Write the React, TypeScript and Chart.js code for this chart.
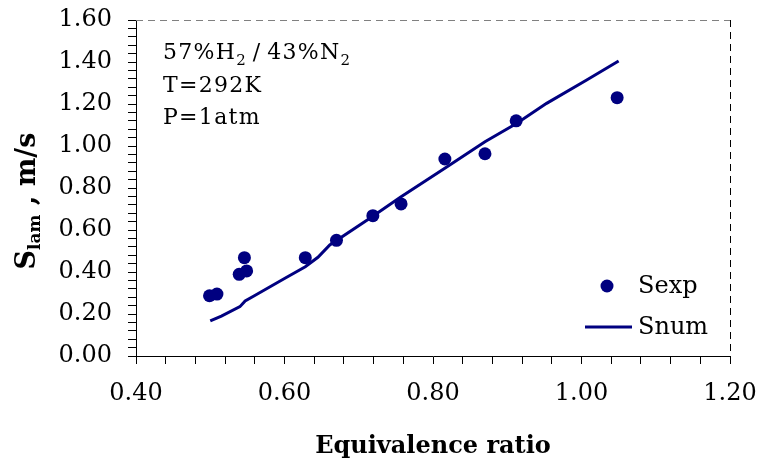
import { useEffect, useRef } from "react";
import { Chart, registerables } from "chart.js";
Chart.register(...registerables);

const FONT = '"DejaVu Serif", serif';
const NAVY = "#000080";

// Experimental points (equivalence ratio, S_lam in m/s)
const expPhi = [0.499, 0.509, 0.539, 0.546, 0.549, 0.628, 0.670, 0.719, 0.757, 0.816, 0.870, 0.912, 1.048];
const expS = [0.287, 0.295, 0.389, 0.468, 0.405, 0.468, 0.551, 0.668, 0.724, 0.938, 0.963, 1.120, 1.230];

// Numerical curve
const numPhi = [0.500, 0.515, 0.540, 0.547, 0.560, 0.600, 0.628, 0.645, 0.661, 0.715, 0.756, 0.819, 0.870, 0.913, 0.953, 1.007, 1.050];
const numS = [0.167, 0.190, 0.235, 0.262, 0.288, 0.369, 0.425, 0.470, 0.529, 0.656, 0.756, 0.901, 1.020, 1.108, 1.203, 1.314, 1.405];

// Axis ticks
const xMin = 0.4, xMax = 1.2, xMajorStep = 0.2, xMinorStep = 0.04;
const yMin = 0.0, yMax = 1.6, yMajorStep = 0.2, yMinorStep = 0.04;

const seriesLabels = ["Sexp", "Snum"];
const xTitle = "Equivalence ratio";
const annotationLines = [
  [["57%H", false], ["2", true], ["\u2009/\u200943%N", false], ["2", true]],
  [["T=292K", false]],
  [["P=1atm", false]],
] as [string, boolean][][];

function tickList(min: number, max: number, step: number) {
  const out: { value: number }[] = [];
  const n = Math.round((max - min) / step);
  for (let i = 0; i <= n; i++) out.push({ value: +(min + i * step).toFixed(4) });
  return out;
}
const isMajor = (v: number, base: number, step: number) => {
  const r = (v - base) / step;
  return Math.abs(r - Math.round(r)) < 1e-6;
};

const overlay = {
  id: "overlay",
  afterDraw(chart: any) {
    const { ctx, chartArea: a } = chart;
    ctx.save();
    // dashed top & right frame
    ctx.lineWidth = 1;
    ctx.setLineDash([7, 5]);
    ctx.strokeStyle = "#808080";
    ctx.beginPath();
    ctx.moveTo(a.left, a.top + 0.5);
    ctx.lineTo(a.right, a.top + 0.5);
    ctx.stroke();
    ctx.strokeStyle = "#000";
    ctx.beginPath();
    ctx.moveTo(a.right + 0.5, a.top);
    ctx.lineTo(a.right + 0.5, a.bottom);
    ctx.stroke();
    ctx.setLineDash([]);

    // annotation
    ctx.fillStyle = "#000";
    ctx.textBaseline = "alphabetic";
    ctx.textAlign = "left";
    (ctx as any).letterSpacing = "1.3px";
    const ax = a.left + 27;
    let ay = a.top + 39;
    for (const line of annotationLines) {
      let x = ax;
      for (const [txt, sub] of line) {
        ctx.font = sub ? `15px ${FONT}` : `22px ${FONT}`;
        ctx.fillText(txt, x, sub ? ay + 6 : ay);
        x += ctx.measureText(txt).width;
      }
      ay += 32.5;
    }
    (ctx as any).letterSpacing = "0px";

    // legend
    const ds = chart.data.datasets;
    const lx = a.right - 123;
    ctx.fillStyle = NAVY;
    ctx.beginPath();
    ctx.arc(lx, 286, 6.5, 0, Math.PI * 2);
    ctx.fill();
    ctx.strokeStyle = NAVY;
    ctx.lineWidth = 3;
    ctx.beginPath();
    ctx.moveTo(a.right - 145, 327);
    ctx.lineTo(a.right - 98, 327);
    ctx.stroke();
    ctx.fillStyle = "#000";
    ctx.font = `24px ${FONT}`;
    ctx.fillText(ds[0].label, a.right - 92, 293);
    ctx.fillText(ds[1].label, a.right - 92, 334);

    // x title
    ctx.font = `bold 24px ${FONT}`;
    ctx.textAlign = "center";
    ctx.fillText(xTitle, (a.left + a.right) / 2, 453);

    // y title (rotated, with subscript)
    const parts: [string, string, number][] = [
      ["S", `bold 27px ${FONT}`, 0],
      ["lam", `bold 17px ${FONT}`, 5],
      [" , m/s", `bold 27px ${FONT}`, 0],
    ];
    let total = 0;
    for (const [t, f] of parts) {
      ctx.font = f;
      total += ctx.measureText(t).width;
    }
    ctx.translate(35, 201);
    ctx.rotate(-Math.PI / 2);
    ctx.textAlign = "left";
    let px = -total / 2;
    for (const [t, f, dy] of parts) {
      ctx.font = f;
      ctx.fillText(t, px, dy);
      px += ctx.measureText(t).width;
    }
    ctx.restore();
  },
};

export default function App() {
  const ref = useRef<HTMLCanvasElement>(null);
  useEffect(() => {
    if (!ref.current) return;
    const chart = new Chart(ref.current, {
      type: "scatter",
      data: {
        datasets: [
          {
            label: seriesLabels[0],
            data: expPhi.map((x, i) => ({ x, y: expS[i] })),
            backgroundColor: NAVY,
            borderColor: NAVY,
            pointRadius: 6.5,
            pointBorderWidth: 0,
            showLine: false,
          },
          {
            label: seriesLabels[1],
            data: numPhi.map((x, i) => ({ x, y: numS[i] })),
            borderColor: NAVY,
            backgroundColor: NAVY,
            borderWidth: 3,
            pointRadius: 0,
            showLine: true,
            tension: 0,
            fill: false,
          },
        ],
      },
      options: {
        animation: false,
        responsive: false,
        layout: { padding: { left: 0, top: 20, right: 27, bottom: 0 } },
        plugins: { legend: { display: false }, tooltip: { enabled: false } },
        scales: {
          x: {
            type: "linear",
            min: xMin,
            max: xMax,
            afterBuildTicks: (s: any) => {
              s.ticks = tickList(xMin, xMax, xMinorStep);
            },
            afterFit: (s: any) => {
              s.height = 106;
              s.paddingLeft = 0;
              s.paddingRight = 0;
            },
            grid: { drawOnChartArea: false, tickLength: 8, color: "#000", tickColor: "#000" },
            border: { display: true, color: "#000", width: 1 },
            ticks: {
              autoSkip: false,
              maxRotation: 0,
              padding: 15,
              color: "#000",
              font: { family: FONT, size: 24 },
              callback: (v: any) => (isMajor(v, xMin, xMajorStep) ? Number(v).toFixed(2) : ""),
            },
          },
          y: {
            type: "linear",
            min: yMin,
            max: yMax,
            afterBuildTicks: (s: any) => {
              s.ticks = tickList(yMin, yMax, yMinorStep);
            },
            afterFit: (s: any) => {
              s.width = 136;
              s.paddingTop = 0;
              s.paddingBottom = 0;
            },
            grid: { drawOnChartArea: false, tickLength: 8, color: "#000", tickColor: "#000" },
            border: { display: true, color: "#000", width: 1 },
            ticks: {
              autoSkip: false,
              padding: 16,
              color: "#000",
              font: { family: FONT, size: 24 },
              callback: (v: any) => (isMajor(v, yMin, yMajorStep) ? Number(v).toFixed(2) : ""),
            },
          },
        },
      },
      plugins: [overlay],
    });
    return () => chart.destroy();
  }, []);
  return (
    <div style={{ position: "absolute", left: 0, top: 0, width: 757, height: 462, background: "#fff" }}>
      <canvas ref={ref} width={757} height={462} />
    </div>
  );
}
